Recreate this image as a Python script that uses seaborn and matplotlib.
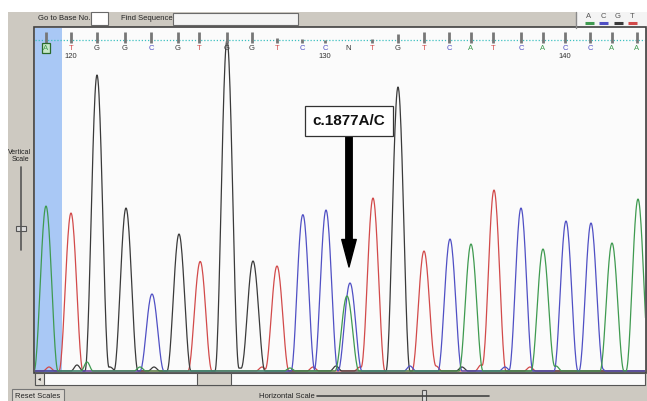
import numpy as np
import pandas as pd
import matplotlib.pyplot as plt
import seaborn as sns
from matplotlib.patches import Rectangle

# called bases along the top strip (scan position of each call)
bases = ['A', 'T', 'G', 'G', 'C', 'G', 'T', 'G', 'G', 'T', 'C', 'C', 'N',
         'T', 'G', 'T', 'C', 'A', 'T', 'C', 'A', 'C', 'C', 'A', 'A']
base_pos = [46, 71, 97, 125, 151, 178, 199, 227, 252, 277, 302, 325, 348,
            372, 398, 424, 449, 471, 493, 521, 543, 565, 590, 612, 637]
base_qual = [11, 11, 11, 11, 11, 11, 11, 11, 11, 5, 4, 3, 0,
             4, 9, 11, 11, 11, 11, 11, 11, 11, 11, 11, 11]
first_base_no = 119

# main peaks (channel, scan position, signal height)
peak_chan = ['A', 'T', 'G', 'G', 'C', 'G', 'T', 'G', 'G', 'T', 'C', 'C', 'C', 'A',
             'T', 'G', 'T', 'C', 'A', 'T', 'C', 'A', 'C', 'C', 'A', 'A']
peak_pos = [46, 71, 97, 126, 152, 179, 200, 227, 253, 277, 303, 326, 350, 347,
            373, 398, 424, 450, 471, 494, 521, 543, 566, 591, 612, 638]
peak_height = [165, 158, 296, 163, 77, 137, 108, 331, 110, 105, 156, 161, 88, 75,
               173, 284, 120, 132, 127, 181, 163, 122, 150, 148, 128, 172]

# small background bumps
bump_chan = ['T', 'G', 'A', 'G', 'A', 'G', 'T', 'G', 'T', 'A', 'C', 'T', 'G',
             'T', 'C', 'T', 'G', 'T', 'C', 'T', 'A', 'C']
bump_pos = [49, 77, 87, 110, 140, 154, 203, 240, 262, 290, 298, 313, 336,
            360, 410, 436, 462, 481, 505, 530, 556, 600]
bump_height = [4, 6, 9, 4, 4, 4, 3, 3, 4, 3, 5, 4, 5,
               4, 5, 5, 4, 6, 4, 4, 5, 4]

colors = {'A': '#3f9a50', 'C': '#5050c4', 'G': '#3a3a3a', 'T': '#d24a4a', 'N': '#333333'}
half_w = 12.0   # half of a peak's footprint, in scans


def peak_shape(d, w):
    d = np.clip(np.abs(d) / w, 0, 1)
    return np.cos(np.pi * d / 2) ** 2


scan = np.arange(30, 652, 0.5)
rows = []
for ch in ['A', 'C', 'G', 'T']:
    sig = np.zeros_like(scan)
    for c, p, h in zip(peak_chan, peak_pos, peak_height):
        if c == ch:
            sig += h * peak_shape(scan - p, half_w)
    for c, p, h in zip(bump_chan, bump_pos, bump_height):
        if c == ch:
            sig += h * peak_shape(scan - p, 6)
    rows.append(pd.DataFrame({'scan': scan, 'signal': sig, 'channel': ch}))
traces = pd.concat(rows, ignore_index=True)

sns.set_theme(style='white')
plt.rcParams['font.family'] = ['Liberation Sans', 'DejaVu Sans']

W, H = 647, 401
fig = plt.figure(figsize=(W / 100, H / 100), dpi=100, facecolor='white')

# window chrome, drawn in pixel coordinates
ui = fig.add_axes([0, 0, 1, 1], zorder=0)
ui.set_xlim(0, W)
ui.set_ylim(H, 0)
ui.axis('off')
panel = '#cdc9c1'
ui.add_patch(Rectangle((8, 12), W - 8, H - 12, facecolor=panel, edgecolor='none'))
ui.add_patch(Rectangle((577, 12), W - 577, 16, facecolor='#f4f4f4', edgecolor='none'))
ui.plot([576, 576], [12, 28], color='#8a8a8a', lw=1)
ui.add_patch(Rectangle((34, 27), 612, 346, facecolor='#fbfbfb', edgecolor='#404040', lw=1.2))

ui.text(64, 19, 'Go to Base No.', fontsize=5.5, ha='center', va='center', color='#222222')
ui.add_patch(Rectangle((91, 12), 17, 13, facecolor='white', edgecolor='#6a6a6a', lw=0.8))
ui.text(147, 19, 'Find Sequence', fontsize=5.5, ha='center', va='center', color='#222222')
ui.add_patch(Rectangle((173, 13), 125, 12, facecolor='#f4f4f4', edgecolor='#6a6a6a', lw=0.8))

for i, ch in enumerate(['A', 'C', 'G', 'T']):
    x0 = 589 + i * 14.5
    ui.text(x0, 16, ch, fontsize=5.5, ha='center', va='center', color='#555555')
    ui.plot([x0 - 4.5, x0 + 4.5], [22.5, 22.5], color=colors[ch], lw=2.2, solid_capstyle='butt')

ui.text(20, 156, 'Vertical\nScale', fontsize=5, ha='center', va='center',
        color='#222222', linespacing=1.0)
ui.plot([21, 21], [167, 250], color='#555555', lw=1.2)
ui.add_patch(Rectangle((16, 226), 10, 5, facecolor='#dddddd', edgecolor='#555555', lw=0.8))

# scrollbar
ui.add_patch(Rectangle((35, 373), 610, 12, facecolor='#fbfbfb', edgecolor='#555555', lw=0.8))
ui.add_patch(Rectangle((35, 373), 9, 12, facecolor='#e0ddd6', edgecolor='#555555', lw=0.8))
ui.text(39.5, 379, '◂', fontsize=4, ha='center', va='center', color='#222222')
ui.add_patch(Rectangle((197, 373), 34, 12, facecolor='#d6d2ca', edgecolor='#555555', lw=0.8))

# bottom controls
ui.add_patch(Rectangle((12, 389), 52, 13, facecolor='#d9d5ce', edgecolor='#777777', lw=0.8))
ui.text(38, 396, 'Reset Scales', fontsize=5.5, ha='center', va='center', color='#222222')
ui.text(287, 396, 'Horizontal Scale', fontsize=5.5, ha='center', va='center', color='#222222')
ui.plot([317, 489], [396, 396], color='#444444', lw=1.2)
ui.add_patch(Rectangle((422, 390), 4, 11, facecolor='#dddddd', edgecolor='#555555', lw=0.8))

# chromatogram
x_lo, x_hi = 35, 645
top_px, base_px = 28, 372
ax = fig.add_axes([x_lo / W, (H - base_px) / H, (x_hi - x_lo) / W, (base_px - top_px) / H],
                  zorder=1)
ax.set_facecolor('none')
ax.axvspan(x_lo, 62, color='#a9c8f5', lw=0, zorder=0)
sns.lineplot(data=traces, x='scan', y='signal', hue='channel',
             palette={k: colors[k] for k in 'ACGT'}, hue_order=['T', 'G', 'C', 'A'],
             linewidth=0.9, legend=False, ax=ax, sort=False, estimator=None)
ax.set_xlim(x_lo, x_hi)
ax.set_ylim(-1, base_px - top_px - 1)
ax.set_xlabel('')
ax.set_ylabel('')
ax.set_xticks([])
ax.set_yticks([])
for s in ax.spines.values():
    s.set_visible(False)

def py(px):
    # pixel row -> signal units
    return base_px - 1 - px

ax.plot([x_lo, x_hi], [py(40), py(40)], color='#3cc0c0', lw=0.9, ls=(0, (1, 1.5)), zorder=3)
for i, (b, p, q) in enumerate(zip(bases, base_pos, base_qual)):
    if q > 0:
        ax.plot([p, p], [py(43), py(43 - q)], color='#777777', lw=2.0,
                solid_capstyle='butt', zorder=4)
    ax.text(p, py(48), b, fontsize=5.5, ha='center', va='center',
            color=colors[b], zorder=5)
    num = first_base_no + i
    if num % 10 == 0:
        ax.text(p, py(57), str(num), fontsize=5.5, ha='center', va='center',
                color='#333333', zorder=5)
ax.add_patch(Rectangle((base_pos[0] - 4, py(53)), 8, 10, facecolor='#c8e8c8',
                       edgecolor='#2a6a2a', lw=0.9, zorder=4))

n_idx = bases.index('N')
ax.annotate('c.1877A/C', xy=(base_pos[n_idx] + 1, py(267)),
            xytext=(base_pos[n_idx] + 1, py(121)),
            fontsize=11, fontweight='bold', ha='center', va='center', color='#111111',
            bbox=dict(boxstyle='square,pad=0.5', facecolor='white', edgecolor='#333333', lw=0.9),
            arrowprops=dict(arrowstyle='simple,head_length=1.8,head_width=0.95,tail_width=0.42',
                            facecolor='black', edgecolor='black', shrinkA=0, shrinkB=0),
            zorder=6)

fig.savefig('out.png', dpi=100, facecolor='white')
